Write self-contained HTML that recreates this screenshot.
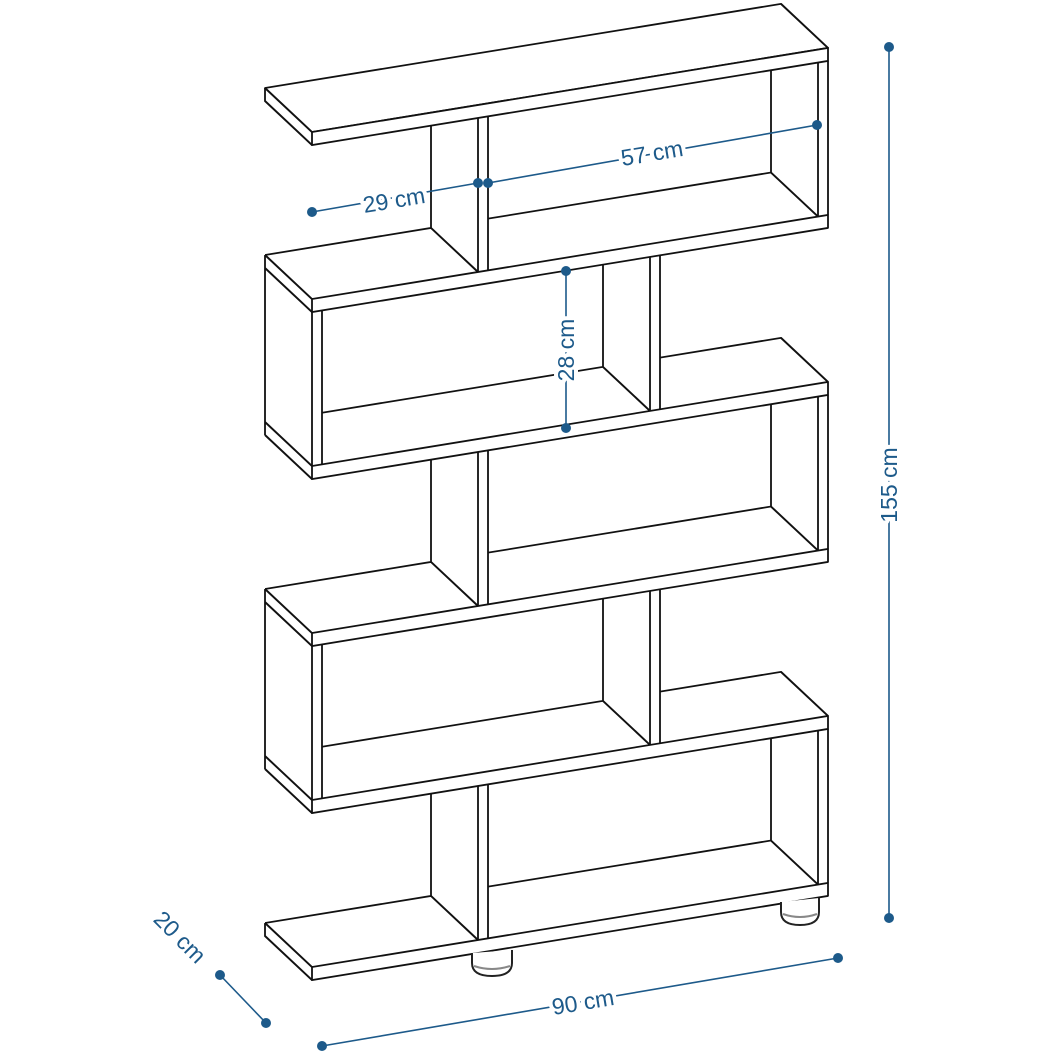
<!DOCTYPE html>
<html><head><meta charset="utf-8"><style>
html,body{margin:0;padding:0;background:#fff}
svg{display:block}
.t{font-family:"Liberation Sans",sans-serif;font-size:23px;fill:#1d5a8a;stroke:#fff;stroke-width:8px;paint-order:stroke;stroke-linejoin:round}
</style></head><body>
<svg width="1053" height="1053" viewBox="0 0 1053 1053" xmlns="http://www.w3.org/2000/svg">
<defs>
<g id="secA" fill="none">
  <path d="M478,145V299M488,145V299M818,145V299M828,145V299"/>
  <path d="M771,145V247.3L818,299M488,247.3H771"/>
  <path d="M431,145V247.3L478,299M265,247.3H431M265,247.3L312,299"/>
</g>
<g id="secB" fill="none">
  <path d="M265,247.3V427.3M265,260.3L312,312M265,414.3L312,466M265,427.3L312,479"/>
  <path d="M312,312V466M322,312V466M650,312V466M660,312V466"/>
  <path d="M603,312V414.3L650,466M322,414.3H603"/>
  <path d="M660,414.3H781L828,466"/>
</g>
</defs>
<g transform="matrix(1 -0.163 0 1 0 50.9)" stroke="#111" stroke-width="1.8" stroke-linejoin="round">
  <polygon points="265,80.3 781,80.3 828,132 312,132" fill="#fff"/>
  <path d="M265,80.3V93.3L312,145" fill="none"/>
  <use href="#secA"/>
  <use href="#secB"/>
  <use href="#secA" transform="translate(0,334)"/>
  <use href="#secB" transform="translate(0,334)"/>
  <use href="#secA" transform="translate(0,668)"/>
  <path d="M265,915.3V928.3L312,980" fill="none"/>
  <g fill="#fff">
    <rect x="312" y="132" width="516" height="13"/>
    <rect x="312" y="299" width="516" height="13"/>
    <rect x="312" y="466" width="516" height="13"/>
    <rect x="312" y="633" width="516" height="13"/>
    <rect x="312" y="800" width="516" height="13"/>
    <rect x="312" y="967" width="516" height="13"/>
  </g>
</g>
<g stroke="#222" stroke-width="2" fill="#fff">
  <path d="M472,953 L472,963 Q472,976 492,976 Q512,976 512,963 L512,950"/>
  <path d="M474,966 Q492,972 510,966" fill="none" stroke="#888"/>
  <path d="M781,902 L781,912 Q781,925 800,925 Q819,925 819,912 L819,898"/>
  <path d="M783,914 Q800,920 817,914" fill="none" stroke="#888"/>
</g>
<g stroke="#1d5a8a" stroke-width="1.6" fill="#1d5a8a">
  <line x1="312" y1="212" x2="478" y2="183"/>
  <line x1="488" y1="183" x2="817" y2="125"/>
  <line x1="566" y1="271" x2="566" y2="428"/>
  <line x1="889" y1="47" x2="889" y2="918"/>
  <line x1="220" y1="975" x2="266" y2="1023"/>
  <line x1="322" y1="1046" x2="838" y2="958"/>
  <g stroke="none">
    <circle cx="312" cy="212" r="5"/><circle cx="478" cy="183" r="5"/>
    <circle cx="488" cy="183" r="5"/><circle cx="817" cy="125" r="5"/>
    <circle cx="566" cy="271" r="5"/><circle cx="566" cy="428" r="5"/>
    <circle cx="889" cy="47" r="5"/><circle cx="889" cy="918" r="5"/>
    <circle cx="220" cy="975" r="5"/><circle cx="266" cy="1023" r="5"/>
    <circle cx="322" cy="1046" r="5"/><circle cx="838" cy="958" r="5"/>
  </g>
</g>
<text class="t" x="394" y="208" text-anchor="middle" transform="rotate(-9.5 394 200)">29 cm</text>
<text class="t" x="652" y="161" text-anchor="middle" transform="rotate(-9.5 652 153)">57 cm</text>
<text class="t" x="566" y="358" text-anchor="middle" transform="rotate(-90 566 350)">28 cm</text>
<text class="t" x="889" y="493" text-anchor="middle" transform="rotate(-90 889 485)">155 cm</text>
<text class="t" x="180" y="945" text-anchor="middle" transform="rotate(45 180 937)">20 cm</text>
<text class="t" x="583" y="1010" text-anchor="middle" transform="rotate(-9.5 583 1002)">90 cm</text>
</svg>
</body></html>
